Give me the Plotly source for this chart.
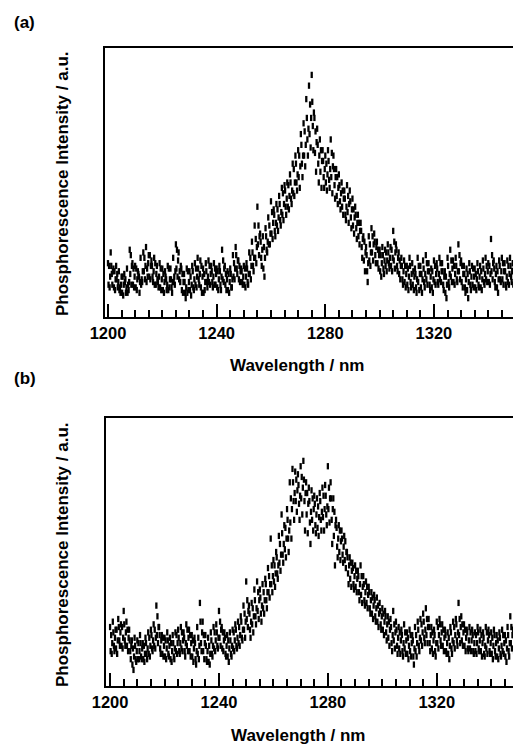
import plotly.graph_objects as go

# Wavelength grid (nm) for the readings
wavelength = list(range(1200, 1351))

# Panel (a): five readings per nm across the noisy band, a.u.
a_hi = [20,24,18,19,17,15,16,18,25,20,19,17,22,24,26,23,21,22,19,20,
        18,17,19,18,22,27,24,18,16,18,17,19,20,22,21,18,20,21,19,20,
        18,19,25,19,17,18,23,26,21,18,19,20,24,28,34,41,31,30,33,37,
        43,40,42,45,48,49,50,53,57,60,62,68,72,81,86,90,74,70,66,62,
        60,62,66,60,55,53,50,47,49,47,44,41,38,35,30,26,30,33,31,28,
        25,26,25,27,26,32,27,24,22,21,19,22,20,18,22,19,21,23,20,18,
        21,20,22,20,17,22,25,21,22,27,21,19,18,20,19,18,20,19,21,22,
        20,29,21,19,21,22,20,21,22,20,21]
a_up = [19,16,17,16,11,15,14,12,23,18,18,15,14,22,18,23,15,20,13,18,
        16,14,18,11,15,25,17,16,9,17,15,11,18,14,19,16,13,19,13,18,
        17,12,21,16,16,11,20,18,19,13,18,13,22,19,29,34,22,26,25,34,
        39,32,40,36,46,41,49,44,55,50,60,57,69,66,79,71,69,57,62,52,
        57,51,61,49,52,43,47,38,45,37,40,33,35,26,28,17,27,30,23,25,
        23,18,24,20,25,28,19,21,14,19,18,13,17,11,19,16,13,20,12,17,
        19,13,20,12,15,13,21,19,14,23,19,11,16,12,18,16,12,17,13,19,
        19,23,13,17,14,20,12,19,15,18,13]
a_mid = [15,17,14,13,12,12,11,13,19,15,14,13,17,19,20,19,17,16,15,14,
         13,12,14,13,17,21,19,13,11,13,12,14,15,16,15,13,15,16,15,16,
         14,15,18,14,13,14,18,21,17,15,15,16,19,22,26,30,25,22,28,31,
         35,35,37,39,42,44,45,47,50,53,56,60,64,70,74,76,65,60,58,55,
         53,55,56,52,48,46,44,41,42,40,37,35,32,29,24,20,24,27,26,23,
         20,21,21,22,22,24,22,19,17,16,15,16,15,14,16,14,16,17,15,14,
         16,16,17,15,12,16,18,16,17,20,16,14,13,15,15,14,15,14,16,17,
         16,20,16,14,17,17,15,16,17,15,16]
a_dn = [12,19,11,14,10,9,13,9,16,12,11,16,12,17,13,15,19,12,14,11,
        10,15,10,14,13,18,14,10,13,9,10,17,12,18,11,9,17,13,17,12,
        11,17,14,12,10,16,15,23,14,17,12,18,16,24,22,27,28,18,30,27,
        31,38,34,42,38,47,41,50,46,57,52,64,60,74,68,80,61,64,54,58,
        50,58,52,55,45,49,41,44,39,43,34,38,30,32,21,23,21,24,28,20,
        17,23,19,24,19,21,25,16,19,13,12,19,12,16,13,11,18,14,17,11,
        13,18,14,17,9,19,15,13,19,17,13,16,10,17,12,11,17,11,18,14,
        13,17,18,11,19,14,17,13,19,12,18]
a_lo = [11,12,10,11,9,8,9,10,12,11,10,9,13,14,15,14,13,12,11,10,
        9,10,11,9,12,15,13,9,7,10,8,10,11,12,9,10,11,12,11,12,
        10,10,13,10,9,11,14,16,13,12,11,12,14,17,20,23,19,15,24,27,
        29,30,32,34,36,38,40,42,45,47,48,52,56,60,63,62,54,50,48,48,
        47,48,46,44,42,40,38,36,35,33,31,29,27,22,17,13,19,21,20,18,
        15,16,17,18,17,18,17,14,12,11,10,11,10,9,10,9,11,12,10,9,
        12,12,13,10,7,11,13,12,13,14,11,9,7,10,11,10,11,10,12,13,
        12,14,11,9,13,12,11,12,13,11,12]

# Panel (b)
b_hi = [22,24,21,25,23,28,24,21,17,18,17,19,16,18,20,21,23,30,22,19,
        18,20,18,19,20,21,22,20,23,21,19,18,22,31,24,19,18,20,22,23,
        28,22,20,19,20,21,23,24,26,30,39,30,31,36,39,36,38,40,44,55,
        47,50,56,64,60,66,76,81,80,79,82,84,76,74,73,71,70,72,74,75,
        82,76,70,62,60,58,56,50,48,46,45,43,45,41,39,37,35,34,33,31,
        29,28,26,25,28,24,22,21,23,20,21,19,22,24,25,27,29,25,22,21,
        24,25,23,21,20,22,24,25,31,26,23,21,22,21,20,22,21,20,22,21,
        20,21,19,20,21,19,22,26,21,20,21]
b_up = [19,15,21,17,22,17,21,13,14,10,16,11,15,12,18,14,21,26,14,18,
        17,12,16,11,19,13,20,13,21,19,17,10,18,16,19,10,15,12,20,15,
        24,20,12,17,12,20,15,22,18,27,32,21,29,26,35,27,35,32,41,45,
        45,42,53,49,59,55,70,69,77,68,78,69,72,61,70,60,67,62,71,64,
        74,62,65,52,58,49,54,42,46,38,43,35,41,32,37,29,33,26,30,23,
        27,20,24,16,23,15,20,13,20,18,19,11,19,15,23,18,25,16,20,13,
        22,17,21,13,18,14,22,17,25,23,21,14,20,13,19,14,19,12,20,13,
        18,13,17,12,19,17,13,22,13,18,19]
b_mid = [16,18,17,20,18,20,18,15,11,13,13,14,12,14,15,17,18,22,17,15,
         14,15,13,14,16,16,17,16,18,16,14,13,15,20,16,13,12,15,17,18,
         21,17,15,14,15,17,18,19,21,24,28,24,26,29,32,30,32,35,38,41,
         42,45,49,53,55,58,66,72,73,71,74,72,68,65,66,64,63,65,66,67,
         70,66,60,55,54,52,50,45,43,41,40,38,37,35,34,32,30,29,27,26,
         24,23,21,19,20,18,17,16,17,15,16,14,16,18,20,21,22,19,17,16,
         19,20,18,16,15,17,19,20,22,20,18,17,17,16,16,17,16,15,17,16,
         15,16,14,15,16,14,16,19,16,15,16]
b_dn = [13,20,14,22,15,23,15,17,8,15,10,16,10,16,12,19,15,19,19,12,
        11,17,10,16,13,18,14,18,15,13,11,16,12,24,13,15,9,17,14,20,
        18,14,18,11,17,14,21,16,24,21,25,27,23,32,28,33,29,38,35,38,
        39,48,46,57,51,62,61,76,69,75,70,77,64,69,62,68,59,69,63,71,
        66,70,56,59,50,55,47,48,40,44,37,41,34,38,31,35,27,32,24,28,
        21,26,18,22,17,21,14,19,14,12,13,17,13,21,17,24,19,22,14,19,
        16,23,15,19,12,20,16,23,19,17,15,20,14,19,13,20,13,18,14,19,
        12,19,11,18,13,11,19,16,19,12,13]
b_lo = [12,13,12,15,14,15,13,10,6,9,10,10,9,10,11,13,14,16,12,11,
        10,11,9,10,12,12,13,11,13,11,9,8,10,13,10,9,8,11,13,14,
        15,13,11,9,11,13,14,15,17,18,22,18,20,23,25,24,27,29,33,35,
        37,40,43,46,48,50,55,62,65,62,64,58,57,53,58,57,56,58,58,60,
        61,53,45,48,47,46,44,38,37,36,35,32,31,30,29,27,25,24,22,21,
        19,17,15,13,14,12,12,11,12,10,11,8,11,13,15,16,16,13,12,11,
        14,15,13,12,10,12,14,15,16,15,13,13,13,12,12,13,11,11,12,12,
        10,11,10,11,12,9,11,14,11,10,12]

panels = [
    dict(series=[a_hi, a_up, a_mid, a_dn, a_lo], xa="x", ya="y"),
    dict(series=[b_hi, b_up, b_mid, b_dn, b_lo], xa="x2", ya="y2"),
]
offsets = [0.0, 0.4, 0.8, 0.2, 0.6]  # position of each reading within its 1 nm step

FONT = "Liberation Sans, Arial, sans-serif"
marker = dict(symbol="line-ns", size=4.5, color="black",
              line=dict(width=2.3, color="black"))

fig = go.Figure()
for p in panels:
    for off, ys in zip(offsets, p["series"]):
        xs = [w + off for w in wavelength]
        fig.add_trace(go.Scatter(x=xs, y=ys, mode="markers", marker=marker,
                                 xaxis=p["xa"], yaxis=p["ya"], showlegend=False,
                                 hoverinfo="skip"))

W, H = 513, 744

def xaxis(domain, rng):
    return dict(domain=domain, range=rng, showgrid=False, zeroline=False,
                automargin=False,
                showline=True, linecolor="black", linewidth=2, mirror=True,
                ticks="inside", ticklen=13, tickwidth=1.5, tickcolor="black",
                tickvals=[1200, 1240, 1280, 1320],
                ticktext=["1200", "1240", "1280", "1320"],
                tickfont=dict(family=FONT, size=16.5, color="black", weight="bold"),
                minor=dict(ticks="inside", ticklen=7, tickwidth=1.5,
                           tickcolor="black", dtick=5, tick0=1200, showgrid=False))

def yaxis(domain):
    return dict(domain=domain, range=[0, 100], showgrid=False, zeroline=False,
                automargin=False,
                showline=True, linecolor="black", linewidth=2, mirror=False,
                showticklabels=False, ticks="")

fig.update_layout(
    width=W, height=H, margin=dict(l=0, r=0, t=0, b=0, pad=0, autoexpand=False),
    showlegend=False,
    paper_bgcolor="white", plot_bgcolor="white",
    xaxis=dict(xaxis([105 / W, 1.0], [1198.9, 1349.1]), anchor="y"),
    yaxis=dict(yaxis([1 - 317 / H, 1 - 48 / H]), anchor="x"),
    xaxis2=dict(xaxis([106 / W, 1.0], [1198.5, 1348.0]), anchor="y2"),
    yaxis2=dict(yaxis([1 - 686 / H, 1 - 418 / H]), anchor="x2"),
)

bold = dict(family=FONT, size=17, color="black", weight="bold")
annots = [
    dict(text="(a)", x=24 / W, y=1 - 23 / H),
    dict(text="(b)", x=25 / W, y=1 - 378 / H),
    dict(text="Wavelength / nm", x=297 / W, y=1 - 365 / H),
    dict(text="Wavelength / nm", x=298 / W, y=1 - 735 / H),
    dict(text="Phosphorescence Intensity / a.u.", x=62 / W, y=1 - 184 / H, textangle=-90),
    dict(text="Phosphorescence Intensity / a.u.", x=62 / W, y=1 - 555 / H, textangle=-90),
]
for a in annots:
    fig.add_annotation(xref="paper", yref="paper", xanchor="center", yanchor="middle",
                       showarrow=False, font=bold, **a)

fig.write_html("out.html")
